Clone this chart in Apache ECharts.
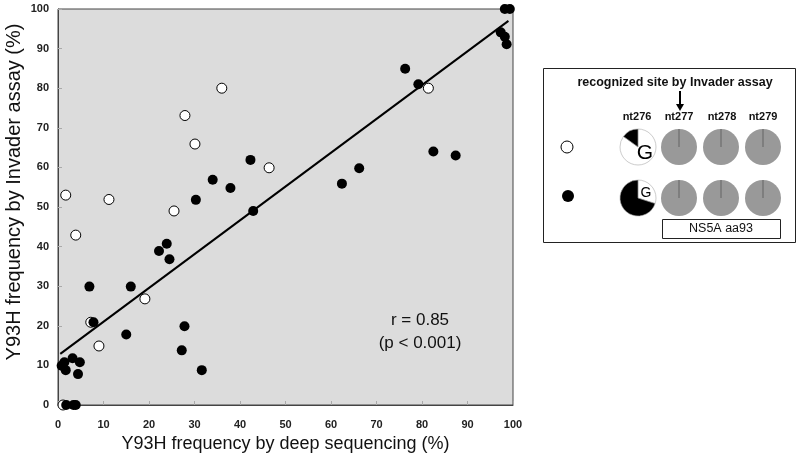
<!DOCTYPE html>
<html>
<head>
<meta charset="utf-8">
<script src="https://cdn.jsdelivr.net/npm/echarts@6/dist/echarts.min.js"></script>
<style>html,body{margin:0;padding:0;background:#fff;}#c{width:800px;height:466px;}</style>
</head>
<body>
<div id="c"></div>
<script>
// Open circles (white) : [deep sequencing %, Invader assay %]
const openPoints = [
  [36.0,80.0],[27.9,73.1],[30.1,65.9],[46.4,59.9],[1.7,53.0],[11.2,51.9],[25.5,49.0],
  [81.4,80.0],[3.9,42.9],[19.1,26.8],[7.2,20.9],[9.0,14.9],[1.1,0]
];
// Filled circles (black)
const filledPoints = [
  [42.3,61.9],[34.0,56.9],[37.9,54.8],[30.3,51.8],[42.9,49.0],[76.3,84.9],[79.2,81.0],
  [82.5,64.0],[87.4,63.0],[66.2,59.8],[62.4,55.9],[98.2,100],[99.3,100],[97.3,94.1],
  [98.2,93.0],[98.6,91.1],[23.9,40.7],[22.2,38.9],[24.5,36.8],[6.9,29.9],[16.0,29.9],
  [7.8,20.9],[27.8,19.9],[15.0,17.8],[27.2,13.8],[31.6,8.8],[3.2,11.8],[1.4,10.8],
  [4.8,10.8],[0.8,9.9],[1.7,8.8],[4.4,7.8],[1.8,0],[3.4,0],[3.9,0]
];
// Regression line end points
const fitLine = [[0.5,12.9],[99.0,97.0]];
const xTicks = [0,10,20,30,40,50,60,70,80,90,100];
const yTicks = [0,10,20,30,40,50,60,70,80,90,100];
const statText = ['r = 0.85','(p < 0.001)'];
const xName = 'Y93H frequency by deep sequencing (%)';
const yName = 'Y93H frequency by Invader assay (%)';
// Legend pies: share of G (white) vs other (black) at nt276
const pieOpenRow = [85, 15];
const pieFilledRow = [30, 70];
const ntLabels = ['nt276','nt277','nt278','nt279'];

const chart = echarts.init(document.getElementById('c'), null, {renderer:'canvas'});
const FONT = 'Liberation Sans, Arial, sans-serif';

const grayCenters = [[679,147],[721,147],[763,147],[679,198],[721,198],[763,198]];
const ntX = [637,679,722,763];

const series = [
  {
    type:'line', data: fitLine, symbol:'none', silent:true,
    lineStyle:{color:'#000', width:2}, z:2
  },
  {
    type:'scatter', data: openPoints, symbolSize:10, clip:false,
    itemStyle:{color:'#fff', borderColor:'#000', borderWidth:1, opacity:1}, z:3
  },
  {
    type:'scatter', data: filledPoints, symbolSize:10, clip:false,
    itemStyle:{color:'#000', opacity:1}, z:4
  },
  {
    type:'pie', center:[638,147], radius:18, startAngle:90, clockwise:true, silent:true,
    label:{show:false}, labelLine:{show:false},
    data:[{value:pieOpenRow[0], itemStyle:{color:'#fff'}},{value:pieOpenRow[1], itemStyle:{color:'#000'}}],
    itemStyle:{borderColor:'#aaa', borderWidth:0.6}
  },
  {
    type:'pie', center:[638,198], radius:18, startAngle:90, clockwise:true, silent:true,
    label:{show:false}, labelLine:{show:false},
    data:[{value:pieFilledRow[0], itemStyle:{color:'#fff'}},{value:pieFilledRow[1], itemStyle:{color:'#000'}}],
    itemStyle:{borderColor:'#aaa', borderWidth:0.6}
  }
];
grayCenters.forEach(c => {
  series.push({
    type:'pie', center:c, radius:18, silent:true,
    label:{show:false}, labelLine:{show:false},
    data:[{value:1, itemStyle:{color:'#999999'}}]
  });
});

const graphics = [
  {type:'text', x:14, y:192, rotation:Math.PI/2, style:{text:yName, font:'20px '+FONT, fill:'#111', textAlign:'center', textVerticalAlign:'middle'}},
  {type:'text', x:420, y:320, style:{text:statText[0], font:'17px '+FONT, fill:'#111', textAlign:'center', textVerticalAlign:'middle'}},
  {type:'text', x:420, y:343, style:{text:statText[1], font:'17px '+FONT, fill:'#111', textAlign:'center', textVerticalAlign:'middle'}},
  {type:'rect', shape:{x:543.5, y:68.5, width:252, height:174}, style:{fill:'none', stroke:'#222', lineWidth:1}},
  {type:'text', x:675, y:83, style:{text:'recognized site by Invader assay', font:'bold 12.5px '+FONT, fill:'#111', textAlign:'center', textVerticalAlign:'middle'}},
  {type:'line', shape:{x1:680, y1:91, x2:680, y2:105}, style:{stroke:'#000', lineWidth:2}},
  {type:'polygon', shape:{points:[[676,104],[684,104],[680,111]]}, style:{fill:'#000'}},
  {type:'circle', shape:{cx:567, cy:147, r:6}, style:{fill:'#fff', stroke:'#000', lineWidth:1}},
  {type:'circle', shape:{cx:568, cy:196, r:6}, style:{fill:'#000'}},
  {type:'text', x:645, y:153, z:100, style:{text:'G', font:'21px '+FONT, fill:'#000', textAlign:'center', textVerticalAlign:'middle'}},
  {type:'text', x:646, y:193, z:100, style:{text:'G', font:'14px '+FONT, fill:'#000', textAlign:'center', textVerticalAlign:'middle'}},
  {type:'rect', shape:{x:662.5, y:219.5, width:118, height:19}, style:{fill:'#fff', stroke:'#222', lineWidth:1}},
  {type:'text', x:721, y:229, style:{text:'NS5A aa93', font:'12.5px '+FONT, fill:'#111', textAlign:'center', textVerticalAlign:'middle'}}
];
ntLabels.forEach((t,i) => {
  graphics.push({type:'text', x:ntX[i], y:117, style:{text:t, font:'bold 11px '+FONT, fill:'#111', textAlign:'center', textVerticalAlign:'middle'}});
});
grayCenters.forEach(c => {
  graphics.push({type:'line', z:100, shape:{x1:c[0], y1:c[1], x2:c[0], y2:c[1]-18}, style:{stroke:'#555', lineWidth:0.8}});
});

chart.setOption({
  animation:false,
  backgroundColor:'#fff',
  grid:{left:58, right:287, top:9, bottom:61, show:true, backgroundColor:'#dcdcdc', borderColor:'#444', borderWidth:1},
  xAxis:{
    type:'value', min:0, max:100, interval:10,
    name:xName, nameLocation:'middle', nameGap:26,
    nameTextStyle:{fontSize:18, color:'#111', fontFamily:FONT},
    axisLine:{show:true, lineStyle:{color:'#444'}},
    axisTick:{show:true, inside:true, length:4, lineStyle:{color:'#aaa'}},
    axisLabel:{fontSize:11, fontWeight:'bold', color:'#222', fontFamily:FONT, margin:14,
      formatter:v => xTicks.includes(v) ? String(v) : ''},
    splitLine:{show:false}
  },
  yAxis:{
    type:'value', min:0, max:100, interval:10,
    axisLine:{show:true, lineStyle:{color:'#444'}},
    axisTick:{show:true, inside:true, length:4, lineStyle:{color:'#aaa'}},
    axisLabel:{fontSize:11, fontWeight:'bold', color:'#222', fontFamily:FONT, margin:9,
      formatter:v => yTicks.includes(v) ? String(v) : ''},
    splitLine:{show:false}
  },
  series: series,
  graphic: graphics
});
</script>
</body>
</html>
